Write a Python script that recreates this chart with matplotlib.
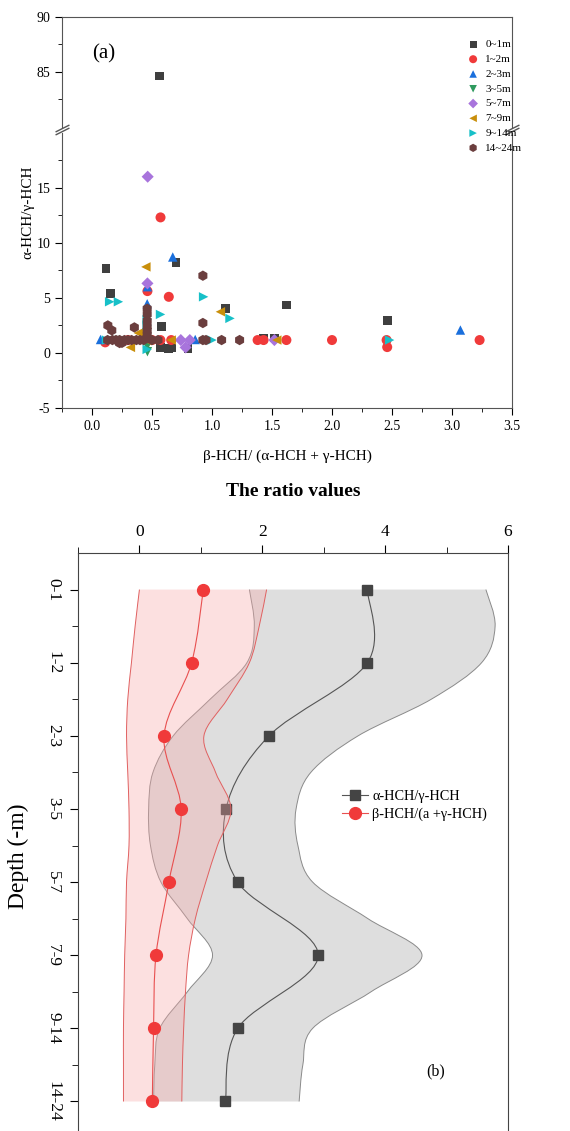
import matplotlib
matplotlib.use("Agg")
import matplotlib.pyplot as plt
from matplotlib.path import Path
from matplotlib.patches import PathPatch
from matplotlib.lines import Line2D
import numpy as np

plt.rcParams["font.family"] = ["Liberation Serif", "DejaVu Serif"]
plt.rcParams["axes.unicode_minus"] = False

# ---- panel (a) data : beta/(alpha+gamma) vs alpha/gamma ----
groups = ["0~1m", "1~2m", "2~3m", "3~5m", "5~7m", "7~9m", "9~14m", "14~24m"]

x_0_1 = [0.56, 0.117, 0.155, 0.70, 1.11, 0.576, 1.62, 2.46, 1.43, 1.52, 0.57, 0.64, 0.667, 0.80]
y_0_1 = [84.6, 7.66, 5.36, 8.2, 4.03, 2.36, 4.33, 2.9, 1.33, 1.33, 0.48, 0.39, 0.42, 0.36]

x_1_2 = [0.571, 0.462, 0.64, 0.11, 0.30, 0.50, 0.57, 0.66, 1.38, 1.43, 1.62, 2.0, 2.455, 2.46, 3.23]
y_1_2 = [12.3, 5.6, 5.08, 0.94, 1.15, 1.15, 1.15, 1.15, 1.15, 1.15, 1.15, 1.15, 1.15, 0.51, 1.15]

x_2_3 = [0.673, 0.462, 0.46, 0.071, 0.86, 3.07]
y_2_3 = [8.7, 6.0, 4.45, 1.2, 1.2, 2.06]

x_3_5 = [0.462, 0.46, 0.20]
y_3_5 = [0.09, 0.6, 1.1]

x_5_7 = [0.464, 0.462, 0.74, 0.815, 0.78, 1.52]
y_5_7 = [16.0, 6.3, 1.15, 1.15, 0.48, 1.15]

x_7_9 = [0.449, 1.07, 0.386, 0.32, 0.66, 1.54, 0.46]
y_7_9 = [7.8, 3.72, 1.79, 0.48, 1.15, 1.15, 1.1]

x_9_14 = [0.93, 0.147, 0.22, 0.571, 1.15, 0.46, 0.46, 2.48, 0.46, 0.12, 1.0]
y_9_14 = [5.08, 4.63, 4.63, 3.48, 3.12, 3.0, 2.5, 1.15, 0.3, 1.15, 1.15]

x_14_24 = [0.924, 0.924, 0.132, 0.165, 0.353, 0.46, 0.46, 0.46, 0.46, 0.46, 0.46,
           0.13, 0.17, 0.20, 0.23, 0.27, 0.30, 0.33, 0.37, 0.40, 0.43, 0.50, 0.55,
           0.924, 0.95, 1.08, 1.23, 0.23, 0.25]
y_14_24 = [7.0, 2.7, 2.48, 2.03, 2.3, 4.0, 3.5, 2.9, 2.4, 2.0, 1.6,
           1.15, 1.15, 1.15, 1.15, 1.15, 1.15, 1.15, 1.15, 1.15, 1.15, 1.15, 1.15,
           1.15, 1.15, 1.15, 1.15, 0.88, 0.9]

xs_a = [x_0_1, x_1_2, x_2_3, x_3_5, x_5_7, x_7_9, x_9_14, x_14_24]
ys_a = [y_0_1, y_1_2, y_2_3, y_3_5, y_5_7, y_7_9, y_9_14, y_14_24]

# ---- panel (b) data : ratio values vs depth ----
depths = ["0-1", "1-2", "2-3", "3-5", "5-7", "7-9", "9-14", "14-24"]
ratio_ag = [3.71, 3.71, 2.11, 1.41, 1.60, 2.91, 1.60, 1.40]
ratio_b = [1.04, 0.85, 0.40, 0.68, 0.48, 0.27, 0.23, 0.21]

# band limits read at every half depth step (0, 0.5, 1, ... 7)
ag_upper = [5.64, 5.79, 5.57, 4.75, 3.56, 2.79, 2.55, 2.58, 2.82, 3.72, 4.6, 3.77, 2.82, 2.66, 2.6]
ag_lower = [1.79, 1.87, 1.75, 1.15, 0.55, 0.22, 0.15, 0.18, 0.35, 0.78, 1.19, 0.78, 0.33, 0.25, 0.23]
b_upper = [2.07, 1.95, 1.79, 1.43, 1.05, 1.24, 1.49, 1.27, 1.08, 0.91, 0.80, 0.75, 0.72, 0.70, 0.69]
b_lower = [0.0, -0.07, -0.13, -0.19, -0.21, -0.19, -0.17, -0.17, -0.21, -0.22, -0.24, -0.25, -0.26, -0.26, -0.26]


def _bezier(xv, yv):

    """ smooth curve through points (catmull-rom -> cubic bezier) """
    pts = np.column_stack([xv, yv])
    n = len(pts)
    verts = [pts[0]]
    codes = [Path.MOVETO]
    for i in range(n - 1):
        p0 = pts[max(i - 1, 0)]
        p1 = pts[i]
        p2 = pts[i + 1]
        p3 = pts[min(i + 2, n - 1)]
        verts += [p1 + (p2 - p0) / 6, p2 - (p3 - p1) / 6, p2]
        codes += [Path.CURVE4] * 3
    return verts, codes


def _band(ax, lo, hi, pos, face, edge, alpha, z):

    v1, c1 = _bezier(hi, pos)
    v2, c2 = _bezier(lo[::-1], pos[::-1])
    c2[0] = Path.LINETO
    verts = v1 + v2 + [v1[0]]
    codes = c1 + c2 + [Path.CLOSEPOLY]
    ax.add_patch(PathPatch(Path(verts, codes), facecolor=face, edgecolor="none",
                           alpha=alpha, zorder=z))
    for arr in (lo, hi):
        v, c = _bezier(arr, pos)
        ax.add_patch(PathPatch(Path(v, c), facecolor="none", edgecolor=edge,
                               lw=0.7, zorder=z + 0.1))


def graphic():

    W, H = 570, 1131
    fig = plt.figure(figsize=(W / 100, H / 100), dpi=100, facecolor="white")

    """ panel (a) : broken y axis """
    ax_u = fig.add_axes([62 / W, 1 - 126.7 / H, 450 / W, 110 / H])
    ax_l = fig.add_axes([62 / W, 1 - 407.7 / H, 450 / W, 275 / H])

    colors = ["#3f3f3f", "#f03a3a", "#1a6fdc", "#2e9a5e",
              "#a874dc", "#c98f0b", "#17c0c8", "#6b3e3e"]
    markers = ["s", "o", "^", "v", "D", "<", ">", "h"]
    sizes = [40, 52, 46, 46, 38, 46, 46, 56]

    handles = []
    for g, xv, yv, c, m, s in zip(groups, xs_a, ys_a, colors, markers, sizes):
        for ax in (ax_u, ax_l):
            h = ax.scatter(xv, yv, s=s, marker=m, color=c, edgecolors="none", zorder=3)
        handles.append(h)

    for ax in (ax_u, ax_l):
        ax.set_xlim(-0.25, 3.5)
        ax.tick_params(axis="both", which="both", direction="out", labelsize=10,
                       right=False, top=False)
        ax.tick_params(which="major", length=5)
        ax.tick_params(which="minor", length=3)
        for sp in ax.spines.values():
            sp.set_color("#555555")

    ax_u.set_ylim(80, 90)
    ax_u.set_yticks([85, 90])
    ax_u.set_yticks([82.5, 87.5], minor=True)
    ax_u.spines["bottom"].set_visible(False)
    ax_u.tick_params(axis="x", which="both", bottom=False, labelbottom=False)

    ax_l.set_ylim(-5, 20)
    ax_l.set_yticks([-5, 0, 5, 10, 15])
    ax_l.set_yticks([-2.5, 2.5, 7.5, 12.5, 17.5], minor=True)
    ax_l.set_xticks(np.arange(0, 3.51, 0.5))
    ax_l.set_xticks(np.arange(-0.25, 3.5, 0.5), minor=True)
    ax_l.set_xticklabels([f"{v:.1f}" for v in np.arange(0, 3.51, 0.5)])
    ax_l.spines["top"].set_visible(False)
    ax_l.set_xlabel("β-HCH/ (α-HCH + γ-HCH)", fontsize=11, labelpad=12)

    # break marks
    kw = dict(marker=[(-1, -0.5), (1, 0.5)], markersize=10, linestyle="none",
              color="#555555", mec="#555555", mew=1, clip_on=False)
    ax_u.plot([0, 1], [-0.012, -0.012], transform=ax_u.transAxes, **kw)
    ax_l.plot([0, 1], [1.005, 1.005], transform=ax_l.transAxes, **kw)

    fig.text(28 / W, 1 - 212 / H, "α-HCH/γ-HCH", rotation=90, fontsize=11,
             ha="center", va="center")
    ax_u.text(0.0, 86.6, "(a)", fontsize=15, ha="left", va="center")

    fig.legend(handles, groups, loc="upper left", bbox_to_anchor=(462 / W, 1 - 34 / H),
               frameon=False, fontsize=8, handlelength=1.0, handletextpad=0.6,
               labelspacing=0.45, borderpad=0, markerscale=0.8)

    """ panel (b) : ratio values vs depth """
    axb = fig.add_axes([78 / W, 1 - 1160 / H, 430 / W, 607 / H])

    pos = np.arange(len(depths))
    half = np.arange(0, len(depths) - 0.5, 0.5)

    _band(axb, np.array(ag_lower), np.array(ag_upper), half,
          "#c8c8c8", "#8a8a8a", 0.6, 1)
    v, c = _bezier(ratio_ag, pos)
    axb.add_patch(PathPatch(Path(v, c), facecolor="none", edgecolor="#555555",
                            lw=0.8, zorder=2))
    axb.plot(ratio_ag, pos, ls="none", marker="s", ms=7.5, color="#444444", zorder=2.5)

    _band(axb, np.array(b_lower), np.array(b_upper), half,
          "#f7a8a8", "#e06060", 0.35, 3)
    v, c = _bezier(ratio_b, pos)
    axb.add_patch(PathPatch(Path(v, c), facecolor="none", edgecolor="#e85050",
                            lw=0.8, zorder=4))
    axb.plot(ratio_b, pos, ls="none", marker="o", ms=8.5, color="#f03a3a", zorder=4.5)

    axb.set_xlim(-1, 6)
    axb.set_ylim(7.8, -0.5)
    axb.xaxis.tick_top()
    axb.xaxis.set_label_position("top")
    axb.set_xticks([0, 2, 4, 6])
    axb.set_xticks([-1, 1, 3, 5], minor=True)
    axb.set_yticks(pos)
    axb.set_yticklabels(depths, rotation=-90, va="center", ha="right")
    axb.set_yticks(pos[:-1] + 0.5, minor=True)
    axb.tick_params(axis="both", which="both", direction="out", labelsize=12.5)
    axb.tick_params(which="major", length=6)
    axb.tick_params(which="minor", length=4)
    axb.tick_params(axis="y", pad=6)
    axb.set_xlabel("The ratio values", fontsize=14, fontweight="bold", labelpad=20)
    axb.set_ylabel("Depth (-m)", fontsize=17, labelpad=12)
    for sp in axb.spines.values():
        sp.set_color("#444444")

    leg_h = [Line2D([], [], color="#555555", lw=0.8, marker="s", ms=7.5, mfc="#444444", mec="#444444"),
             Line2D([], [], color="#e85050", lw=0.8, marker="o", ms=8.5, mfc="#f03a3a", mec="#f03a3a")]
    axb.legend(leg_h, ["α-HCH/γ-HCH", "β-HCH/(a +γ-HCH)"], loc="upper left",
               bbox_to_anchor=(0.585, 0.63), frameon=False, fontsize=10.3,
               handlelength=1.8, handletextpad=0.3, labelspacing=0.3)

    axb.text(4.82, 6.59, "(b)", fontsize=11.5, ha="center", va="center")

    fig.savefig("out.png", dpi=100)


if __name__ == "__main__":

    graphic()
